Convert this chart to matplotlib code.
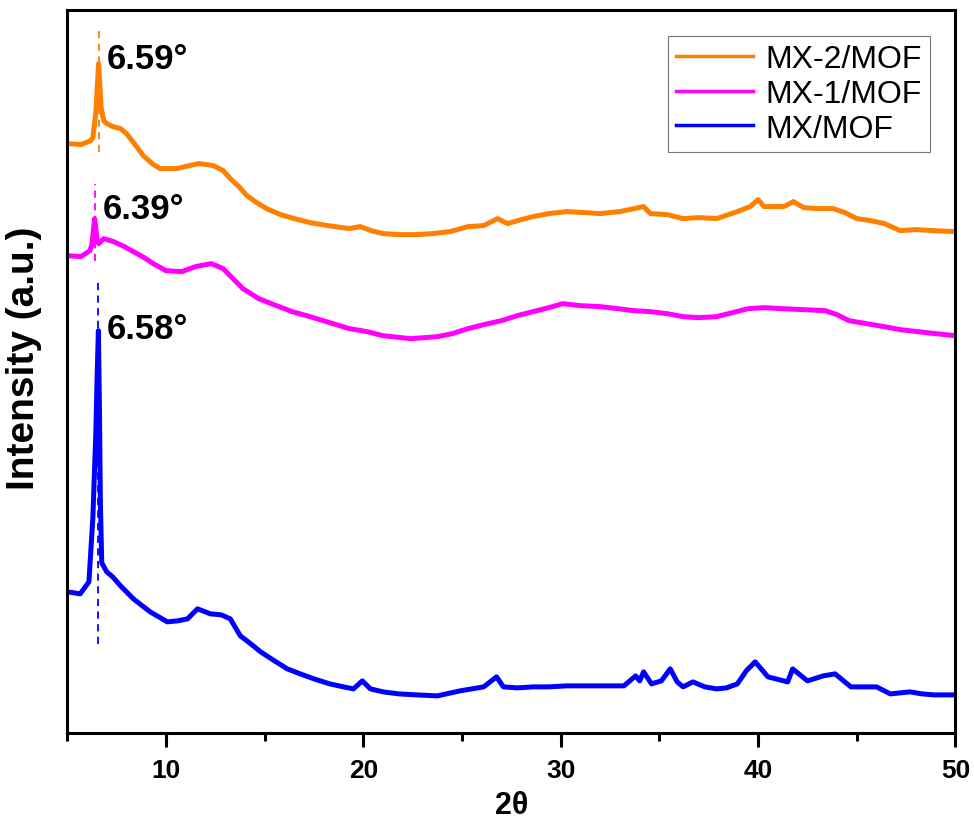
"""
plot.py
=======
Patrones XRD de MX/MOF, MX-1/MOF y MX-2/MOF (intensidad en u.a.).
"""

import matplotlib
matplotlib.use("Agg")
import matplotlib.pyplot as plt

# --------------------------------------------------------------------------- #
#  Datos                                                  #
# --------------------------------------------------------------------------- #
tt_mx2 = [5.0, 5.7, 6.2, 6.3, 6.45, 6.59, 6.72, 6.85, 7.0, 7.3, 7.7, 8.0, 8.4,
          8.85, 9.3, 9.7, 10.55, 11.2, 11.7, 12.4, 12.9, 13.26, 13.7, 14.1,
          14.6, 15.1, 15.8, 16.5, 17.3, 18.2, 19.3, 19.85, 20.4, 21.0, 21.8,
          22.7, 23.5, 24.4, 25.3, 26.1, 26.8, 27.3, 28.0, 28.6, 29.4, 30.3,
          31.2, 32.0, 33.0, 34.2, 34.55, 35.4, 36.2, 37.0, 37.9, 38.95, 39.6,
          40.0, 40.3, 41.3, 41.8, 42.3, 43.0, 43.8, 44.4, 45.0, 45.7, 46.4,
          47.2, 48.0, 48.9, 50.0]
i_mx2 = [589, 588, 592, 595, 620, 669, 625, 612, 609, 606, 604, 599, 589,
         577, 569, 564, 564, 567, 569, 567, 562, 554, 546, 537,
         530, 524, 518, 514, 510, 507, 504, 506, 502, 499, 498,
         498, 499, 501, 506, 507, 514, 509, 513, 516, 519, 521,
         520, 519, 521, 526, 519, 518, 514, 515, 514, 521, 526,
         533, 526, 526, 531, 525, 524, 524, 520, 514, 512, 509,
         502, 503, 502, 501]

tt_mx1 = [5.0, 5.7, 6.15, 6.25, 6.39, 6.52, 6.6, 6.85, 7.35, 7.9, 8.35, 8.9,
          9.36, 10.0, 10.8, 11.5, 12.3, 12.9, 13.4, 13.9, 14.7, 15.6, 16.4,
          17.3, 18.3, 19.3, 20.2, 21.0, 22.4, 23.75, 24.5, 25.3, 26.1, 27.0,
          27.8, 28.6, 29.4, 30.1, 31.0, 32.0, 32.9, 33.7, 34.55, 35.4, 36.2,
          37.0, 37.9, 38.7, 39.5, 40.3, 41.2, 42.3, 43.4, 44.0, 44.6, 45.5,
          46.4, 47.2, 48.1, 49.0, 50.0]
i_mx1 = [477, 476, 482, 488, 514, 492, 489, 494, 491, 486, 481, 475,
         469, 462, 461, 466, 469, 464, 454, 444, 434, 427, 421,
         416, 410, 404, 401, 397, 394, 396, 399, 404, 408, 412,
         417, 421, 425, 429, 427, 426, 424, 422, 421, 419, 416,
         415, 416, 420, 424, 425, 424, 423, 422, 418, 412, 409,
         406, 403, 401, 399, 397]

tt_mx = [5.0, 5.66, 6.1, 6.3, 6.45, 6.52, 6.58, 6.63, 6.68, 6.75, 7.0, 7.3,
         7.7, 8.35, 9.2, 10.07, 10.6, 11.1, 11.6, 12.25, 12.8, 13.26, 13.77,
         14.3, 14.8, 15.5, 16.15, 16.8, 17.5, 18.3, 19.0, 19.5, 19.95, 20.36,
         21.0, 21.8, 22.7, 23.75, 24.9, 26.1, 26.75, 27.1, 27.8, 28.6, 29.4,
         30.3, 31.2, 32.0, 33.2, 33.8, 34.0, 34.2, 34.6, 35.1, 35.55, 35.9,
         36.2, 36.7, 37.3, 37.9, 38.4, 38.95, 39.4, 39.85, 40.5, 41.3, 41.5,
         41.75, 42.5, 43.3, 43.9, 44.7, 45.3, 46.0, 46.7, 47.7, 48.3, 48.9,
         50.0]
i_mx = [141, 139, 151, 215, 300, 360, 402, 330, 230, 170, 161, 156,
        147, 134, 121, 111, 112, 114, 124, 119, 118, 114, 97,
        89, 81, 72, 64, 59, 54, 49, 46, 44, 52, 44,
        41, 39, 38, 37, 42, 46, 56, 46, 45, 46, 46,
        47, 47, 47, 47, 57, 52, 61, 49, 52, 64, 51,
        46, 51, 46, 44, 45, 49, 62, 71, 56, 52, 51,
        64, 52, 57, 59, 46, 46, 46, 39, 41, 39, 38,
        38]

series = ["MX-2/MOF", "MX-1/MOF", "MX/MOF"]
colores = ["#ff8000", "#ff00ff", "#0000ff"]

# posicion del pico principal y rango de la linea discontinua
picos = [6.59, 6.39, 6.58]
etiquetas_pico = ["6.59°", "6.39°", "6.58°"]
rango_guia = [(581, 702), (472, 549), (89, 451)]
y_etiqueta = [674, 524, 404]

# --------------------------------------------------------------------------- #
#  Figura                                                                     #
# --------------------------------------------------------------------------- #
plt.rcParams["font.family"] = ["Liberation Sans", "DejaVu Sans"]

fig = plt.figure(figsize=(9.74, 8.2), dpi=100)
ax = fig.add_axes([0.069, 0.105, 0.912, 0.881])

datos = [(tt_mx2, i_mx2), (tt_mx1, i_mx1), (tt_mx, i_mx)]
for (x, y), nombre, c in zip(datos, series, colores):
    ax.plot(x, y, color=c, lw=3.6, label=nombre, solid_joinstyle="round")

for p, txt, (y0, y1), yt, c in zip(picos, etiquetas_pico, rango_guia,
                                   y_etiqueta, colores):
    ax.plot([p, p], [y0, y1], color=c, lw=1.3, ls=(0, (4, 3)))
    ax.text(p + 0.42, yt, txt, fontsize=25, fontweight="bold",
            va="center", ha="left")

ax.set_xlim(5, 50)
ax.set_ylim(0, 722)
ax.set_xticks([10, 20, 30, 40, 50])
ax.set_xticks([5, 15, 25, 35, 45], minor=True)
ax.set_yticks([])
ax.tick_params(axis="x", which="major", length=10, width=2.2,
               labelsize=19, pad=8)
ax.tick_params(axis="x", which="minor", length=6, width=2.2)
for lbl in ax.get_xticklabels():
    lbl.set_fontweight("bold")
for s in ax.spines.values():
    s.set_linewidth(2.2)

ax.set_xlabel("2θ", fontsize=22, fontweight="bold", labelpad=6)
ax.set_ylabel("Intensity (a.u.)", fontsize=28, fontweight="bold")
ax.yaxis.set_label_coords(-0.028, 0.52)

leg = ax.legend(loc="upper right", fontsize=23, frameon=True, fancybox=False,
                handlelength=2.4, labelspacing=0.15, borderpad=0.25,
                handletextpad=0.4, borderaxespad=0.8)
leg.get_frame().set_edgecolor("#555555")
leg.get_frame().set_linewidth(0.8)
for h in leg.get_lines():
    h.set_linewidth(2.5)

fig.savefig("out.png", dpi=100)
plt.close(fig)
